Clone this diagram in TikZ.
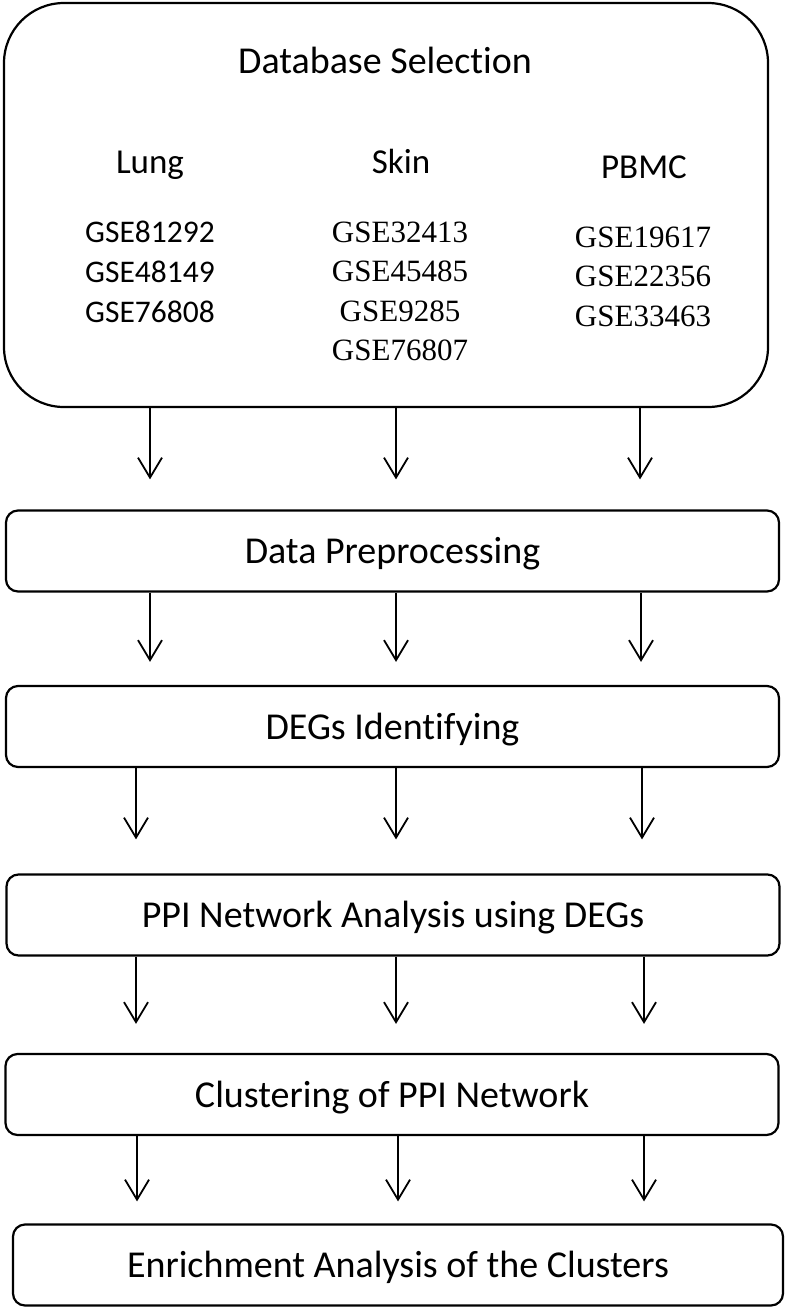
\documentclass[tikz,border=0pt]{standalone}
\usepackage{fontspec}
\setmainfont{Carlito}[Ligatures=NoCommon]
\newfontfamily\timesfont{Liberation Serif}
\usetikzlibrary{arrows.meta}

\begin{document}
\begin{tikzpicture}[x=1pt,y=-1pt,
    stepbox/.style={draw, line width=2.2pt, rounded corners=12pt,
        minimum width=773pt, minimum height=81pt, inner sep=0pt,
        text height=31pt, text depth=6pt,
        font=\fontsize{38}{44}\selectfont},
    flow/.style={line width=1.8pt, -{Straight Barb[length=20pt,width=24pt]}},
    tissue/.style={anchor=base, font=\fontsize{35}{42}\selectfont},
    calid/.style={anchor=base, font=\fontsize{31.5}{38}\selectfont},
    timid/.style={anchor=base, font=\timesfont\fontsize{31}{38}\selectfont}]
\useasboundingbox (0,0) rectangle (787,1310);

% database selection
\node[draw, line width=2.2pt, rounded corners=60pt,
      minimum width=764pt, minimum height=404pt] (db) at (386,205) {};
\node[anchor=base, font=\fontsize{38}{44}\selectfont] (title) at (385,73) {Database Selection};
\node[tissue] (lung) at (150,173) {Lung};
\node[tissue] (skin) at (401,173) {Skin};
\node[tissue] (pbmc) at (644,178) {PBMC};
\foreach \id [count=\i] in {GSE81292,GSE48149,GSE76808}
    \node[calid] (lung\i) at (150,{202+40*\i}) {\id};
\foreach \id [count=\i] in {GSE32413,GSE45485,GSE9285,GSE76807}
    \node[timid] (skin\i) at (400,{202.5+39.5*\i}) {\id};
\foreach \id [count=\i] in {GSE19617,GSE22356,GSE33463}
    \node[timid] (pbmc\i) at (643,{207.5+39.5*\i}) {\id};

% pipeline steps
\node[stepbox] (prep) at (392.5,551) {Data Preprocessing};
\node[stepbox] (degs) at (392.5,726.5) {DEGs Identifying};
\node[stepbox] (ppi) at (393,915) {PPI Network Analysis using DEGs};
\node[stepbox] (clus) at (392,1094.5) {Clustering of PPI Network};
\node[stepbox, minimum width=770pt] (enr) at (398,1265) {Enrichment Analysis of the Clusters};

\foreach \a/\b/\gap/\xl/\xm/\xr in {db/prep/30/150/396/640, prep/degs/23/150/396/641,
        degs/ppi/34/136/396/642, ppi/clus/29/136/396/644, clus/enr/22/137/398/644}
    \foreach \x in {\xl,\xm,\xr}
        \draw[flow, shorten >=\gap pt] (\a.south -| \x,0) -- (\b.north -| \x,0);

\end{tikzpicture}
\end{document}
